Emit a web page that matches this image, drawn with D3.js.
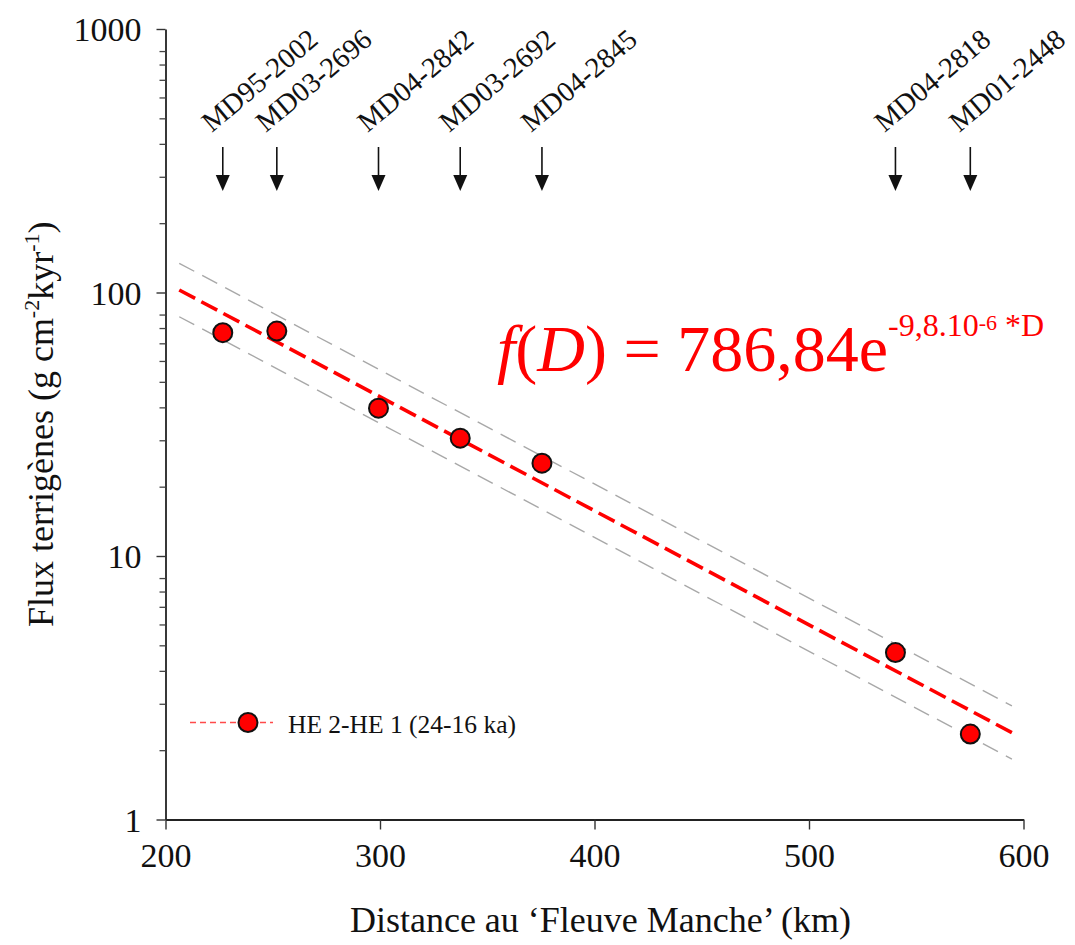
<!DOCTYPE html>
<html>
<head>
<meta charset="utf-8">
<script src="https://cdn.jsdelivr.net/npm/d3@7"></script>
<style>
  html, body { margin: 0; padding: 0; background: #fff; }
  svg { display: block; }
  text { font-family: "Liberation Serif", "Times New Roman", serif; fill: #111; }
</style>
</head>
<body>
<svg id="chart" width="1075" height="945"></svg>
<script>
// ---------- data ----------
const coreNames = ["MD95-2002", "MD03-2696", "MD04-2842", "MD03-2692", "MD04-2845", "MD04-2818", "MD01-2448"];
const coreDistance = [226.7, 251.9, 299.3, 337.4, 375.5, 540.3, 575.2];
const coreFlux = [70.4, 71.4, 36.4, 28.0, 22.5, 4.30, 2.11];

const fitDistance = [206.4, 594.6];
const fitFlux = [102.2, 2.135];
const upperFlux = [129.1, 2.697];
const lowerFlux = [80.9, 1.696];

const xTicks = [200, 300, 400, 500, 600];
const yTicks = [1, 10, 100, 1000];
const yMinorTicks = [2,3,4,5,6,7,8,9,20,30,40,50,60,70,80,90,200,300,400,500,600,700,800,900];

const seriesLabel = "HE 2-HE 1 (24-16 ka)";
const xTitle = "Distance au \u2018Fleuve Manche\u2019 (km)";

// ---------- layout ----------
const svg = d3.select("#chart");
const x = d3.scaleLinear().domain([200, 600]).range([165.5, 1023.5]);
const y = d3.scaleLog().domain([1, 1000]).range([819.5, 29]);
const minorOffset = 10.5;
const red = "#ff0000";

// axes
const yAxis = svg.append("g").attr("transform", `translate(${x(200)},0)`)
  .call(d3.axisLeft(y).tickValues(yTicks).tickFormat(d3.format("d")).tickSize(9).tickSizeOuter(0).tickPadding(15));
const xAxis = svg.append("g").attr("transform", `translate(0,${y(1)})`)
  .call(d3.axisBottom(x).tickValues(xTicks).tickFormat(d3.format("d")).tickSize(10).tickSizeOuter(0).tickPadding(13));
[yAxis, xAxis].forEach(g => {
  g.select(".domain").attr("stroke", "#222").attr("stroke-width", 1.8);
  g.selectAll(".tick line").attr("stroke", "#333").attr("stroke-width", 1.4);
  g.selectAll(".tick text").style("font-family", '"Liberation Serif", serif').style("font-size", "34px").attr("fill", "#111");
});
yAxis.selectAll(".tick text").attr("dy", "0.34em");

// minor ticks on y axis
svg.append("g").selectAll("line").data(yMinorTicks).join("line")
  .attr("x1", x(200) - 6).attr("x2", x(200))
  .attr("y1", d => y(d) + minorOffset).attr("y2", d => y(d) + minorOffset)
  .attr("stroke", "#444").attr("stroke-width", 1.3);

// axis titles
svg.append("text")
  .attr("x", (x(200) + x(600)) / 2 + 6).attr("y", 932)
  .attr("text-anchor", "middle").style("font-size", "36px")
  .text(xTitle);

const yt = svg.append("text")
  .attr("transform", `translate(53,${(y(1) + y(1000)) / 2}) rotate(-90)`)
  .attr("text-anchor", "middle").style("font-size", "36px");
yt.append("tspan").text("Flux terrig\u00e8nes (g cm");
yt.append("tspan").attr("dy", -14).style("font-size", "22px").text("-2");
yt.append("tspan").attr("dy", 14).text("kyr");
yt.append("tspan").attr("dy", -14).style("font-size", "22px").text("-1");
yt.append("tspan").attr("dy", 14).text(")");

// confidence band lines (gray dashed)
const line = d3.line().x(d => x(d[0])).y(d => y(d[1]));
[upperFlux, lowerFlux].forEach(arr => {
  svg.append("path")
    .attr("d", line(fitDistance.map((d, i) => [d, arr[i]])))
    .attr("fill", "none").attr("stroke", "#a8a8a8").attr("stroke-width", 1.4)
    .attr("stroke-dasharray", "17,9");
});

// regression line (red dashed)
svg.append("path")
  .attr("d", line(fitDistance.map((d, i) => [d, fitFlux[i]])))
  .attr("fill", "none").attr("stroke", red).attr("stroke-width", 3.6)
  .attr("stroke-dasharray", "18,7");

// points
svg.append("g").selectAll("circle").data(coreDistance).join("circle")
  .attr("cx", d => x(d)).attr("cy", (d, i) => y(coreFlux[i]))
  .attr("r", 9.5).attr("fill", red).attr("stroke", "#111").attr("stroke-width", 2);

// core arrows and labels
const arrowTop = 147, arrowTip = 191, headLen = 16, headHalf = 7;
const ann = svg.append("g");
coreDistance.forEach((d, i) => {
  const cx = x(d);
  ann.append("line").attr("x1", cx).attr("x2", cx).attr("y1", arrowTop).attr("y2", arrowTip - headLen + 2)
    .attr("stroke", "#111").attr("stroke-width", 1.6);
  ann.append("path")
    .attr("d", `M${cx - headHalf},${arrowTip - headLen} L${cx + headHalf},${arrowTip - headLen} L${cx},${arrowTip} Z`)
    .attr("fill", "#111");
  ann.append("text")
    .attr("transform", `translate(${cx - 11},${133}) rotate(-40)`)
    .style("font-size", "28.5px")
    .text(coreNames[i]);
});

// equation
const eq = svg.append("text").attr("x", 497).attr("y", 371).attr("fill", red).style("fill", red).style("font-size", "66px");
eq.append("tspan").style("font-style", "italic").text("f");
eq.append("tspan").text("(");
eq.append("tspan").style("font-style", "italic").text("D");
eq.append("tspan").text(") = 786,84e");
eq.append("tspan").attr("dy", -35).style("font-size", "32px").text("-9,8.10");
eq.append("tspan").attr("dy", -6).style("font-size", "22px").text("-6");
eq.append("tspan").attr("dy", 6).style("font-size", "32px").text(" *D");

// legend
const lg = svg.append("g");
lg.append("line").attr("x1", 190).attr("x2", 273).attr("y1", 722.5).attr("y2", 722.5)
  .attr("stroke", "#ff4a4a").attr("stroke-width", 1.4).attr("stroke-dasharray", "6,4");
lg.append("circle").attr("cx", 248).attr("cy", 722.5).attr("r", 9.5)
  .attr("fill", red).attr("stroke", "#111").attr("stroke-width", 2);
lg.append("text").attr("x", 288).attr("y", 733).style("font-size", "25.5px").text(seriesLabel);
</script>
</body>
</html>
